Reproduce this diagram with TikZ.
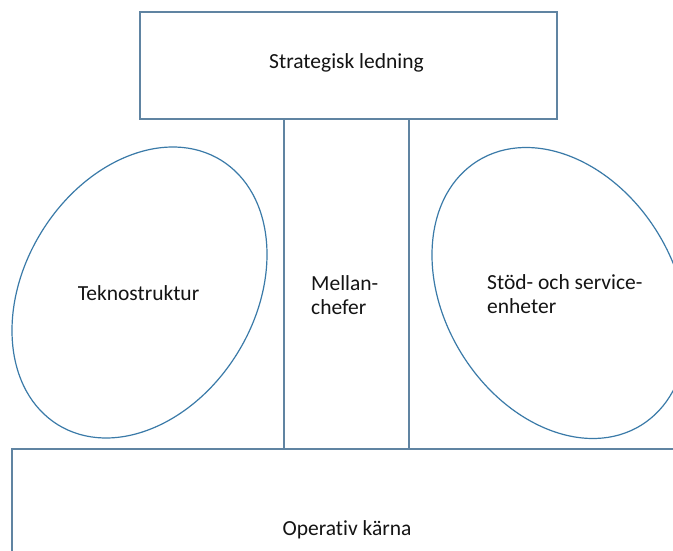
\documentclass[tikz,border=0pt]{standalone}
\usepackage{fontspec}
\setmainfont{Carlito}[Ligatures=NoCommon]
\usetikzlibrary{shapes.geometric}

\definecolor{boxline}{RGB}{96,132,162}
\definecolor{ovalline}{RGB}{58,122,168}
\definecolor{inktext}{RGB}{20,20,20}

\tikzset{
  unitbox/.style={draw=boxline, line width=1.1pt, rectangle, inner sep=0pt,
                  text=inktext},
  oval/.style={draw=ovalline, line width=1.2pt, ellipse, inner sep=0pt},
  caption/.style={inner sep=0pt, text=inktext, align=left},
}

\begin{document}
\begin{tikzpicture}[x=1pt, y=1pt, font=\fontsize{21.5}{24.5}\selectfont]
  \useasboundingbox (0,0) rectangle (673,550);
  \clip (0,0) rectangle (673,550);
  \fill[white] (0,0) rectangle (673,550);

  % operating core (runs off the right and bottom edges)
  \node[unitbox, minimum width=670pt, minimum height=162pt] (core) at (347,20) {Operativ kärna};

  % middle line between apex and core
  \node[unitbox, minimum width=125pt, minimum height=330pt] (middle) at (346.5,266) {};

  % strategic apex
  \node[unitbox, minimum width=417pt, minimum height=107pt] (apex) at (348.5,484.5) {};
  \node[caption] (apextxt) at (346.5,487) {Strategisk ledning};

  % technostructure and support staff
  \node[oval, minimum width=310.8pt, minimum height=230.4pt, rotate=58.4] (tekno) at (139.5,257.5) {};
  \node[oval, minimum width=310.8pt, minimum height=230.4pt, rotate=121.6] (support) at (559.5,257) {};

  \node[caption] (teknotxt) at (138.5,257) {Teknostruktur};
  \node[caption, anchor=west] (middletxt) at (311,255) {Mellan-\\chefer};
  \node[caption, anchor=west] (supporttxt) at (487,256) {Stöd- och service-\\enheter};
\end{tikzpicture}
\end{document}
